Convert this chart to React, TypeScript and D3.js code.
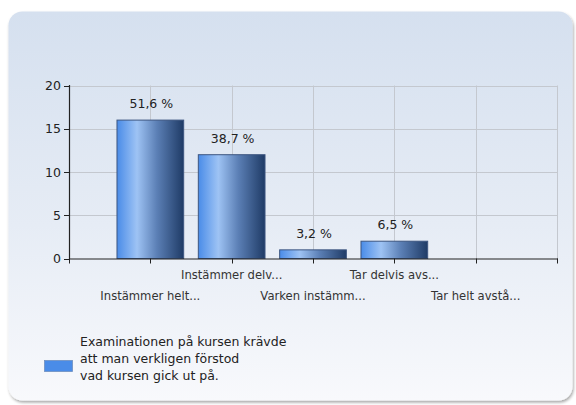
import React from "react";
import * as d3 from "d3";

const categories = [
  "Instämmer helt...",
  "Instämmer delv...",
  "Varken instämm...",
  "Tar delvis avs...",
  "Tar helt avstå...",
];
const counts = [16, 12, 1, 2, 0];
const percentLabels = ["51,6 %", "38,7 %", "3,2 %", "6,5 %", ""];
const yTicks = [0, 5, 10, 15, 20];
const legendLines = [
  "Examinationen på kursen krävde",
  "att man verkligen förstod",
  "vad kursen gick ut på.",
];

const W = 576;
const H = 405;
const left = 69;
const right = 557;
const top = 85.5;
const bottom = 258.5;
const font = "Tahoma, 'DejaVu Sans', 'Liberation Sans', sans-serif";

export default function App() {
  const x = d3.scalePoint<string>().domain(categories).range([left, right]).padding(1);
  const step = x.step();
  const barW = step * 0.82;
  const y = d3.scaleLinear().domain([0, 20]).range([bottom, top]);
  const gridX = d3.range(categories.length + 1).map((i) => left + step * (i + 1));

  return (
    <svg width={W} height={H} style={{ position: "fixed", left: 0, top: 0 }}>
      <defs>
        <linearGradient id="bg" x1="0" y1="0" x2="0" y2="1">
          <stop offset="0" stopColor="#d5e0ef" />
          <stop offset="0.55" stopColor="#e6ecf5" />
          <stop offset="1" stopColor="#f8f9fc" />
        </linearGradient>
        <linearGradient id="bar" x1="0" y1="0" x2="1" y2="0">
          <stop offset="0" stopColor="#4a8ce8" />
          <stop offset="0.3" stopColor="#9ec3f4" />
          <stop offset="0.6" stopColor="#5b7fb5" />
          <stop offset="1" stopColor="#1f3b66" />
        </linearGradient>
        <filter id="shadow" x="-5%" y="-5%" width="110%" height="110%">
          <feDropShadow dx="1" dy="2" stdDeviation="1.5" floodColor="#000" floodOpacity="0.35" />
        </filter>
      </defs>
      <rect x={0} y={0} width={W} height={H} fill="#ffffff" />
      <rect x={8.5} y={11.5} width={564} height={389} rx={14} ry={14} fill="url(#bg)" filter="url(#shadow)" />

      {/* grid */}
      {yTicks.filter((t) => t > 0).map((t) => (
        <line key={"gy" + t} x1={left} x2={right} y1={Math.round(y(t)) + 0.5} y2={Math.round(y(t)) + 0.5} stroke="#c4c8cf" strokeWidth={1} />
      ))}
      {gridX.map((gx, i) => (
        <line key={"gx" + i} x1={Math.round(gx) + 0.5} x2={Math.round(gx) + 0.5} y1={top} y2={bottom} stroke="#c4c8cf" strokeWidth={1} />
      ))}

      {/* bars */}
      {categories.map((c, i) =>
        counts[i] > 0 ? (
          <rect
            key={"b" + i}
            x={(x(c) as number) - barW / 2}
            y={y(counts[i])}
            width={barW}
            height={bottom - y(counts[i])}
            fill="url(#bar)"
            stroke="#3d5680"
            strokeWidth={1}
          />
        ) : null
      )}
      {categories.map((c, i) =>
        percentLabels[i] ? (
          <text key={"p" + i} x={(x(c) as number) + 1} y={y(counts[i]) - 12} textAnchor="middle" fontFamily={font} fontSize={12.5} fill="#222">
            {percentLabels[i]}
          </text>
        ) : null
      )}

      {/* axes */}
      <line x1={left + 0.5} x2={left + 0.5} y1={top - 0.5} y2={bottom + 0.5} stroke="#222" strokeWidth={1.2} />
      <line x1={left} x2={right + 1} y1={bottom + 0.5} y2={bottom + 0.5} stroke="#222" strokeWidth={1.2} />
      {yTicks.map((t) => (
        <g key={"yt" + t}>
          <line x1={left - 5} x2={left} y1={Math.round(y(t)) + 0.5} y2={Math.round(y(t)) + 0.5} stroke="#222" />
          <text x={left - 8} y={y(t) + 4.5} textAnchor="end" fontFamily={font} fontSize={12.5} fill="#222">
            {t}
          </text>
        </g>
      ))}
      {[left, ...gridX].map((gx, i) => (
        <line key={"xt" + i} x1={Math.round(gx) + 0.5} x2={Math.round(gx) + 0.5} y1={bottom} y2={bottom + 5} stroke="#222" />
      ))}
      {categories.map((c, i) => (
        <text key={"xl" + i} x={x(c) as number} y={i % 2 === 1 ? 279 : 300} textAnchor="middle" fontFamily={font} fontSize={11.6} fill="#333">
          {c}
        </text>
      ))}

      {/* legend */}
      <rect x={44.5} y={360.5} width={28} height={11} fill="#4a8ce8" stroke="#6f8fbf" strokeWidth={0.8} />
      {legendLines.map((l, i) => (
        <text key={"l" + i} x={80} y={346 + i * 17} fontFamily={font} fontSize={12.5} fill="#222">
          {l}
        </text>
      ))}
    </svg>
  );
}
